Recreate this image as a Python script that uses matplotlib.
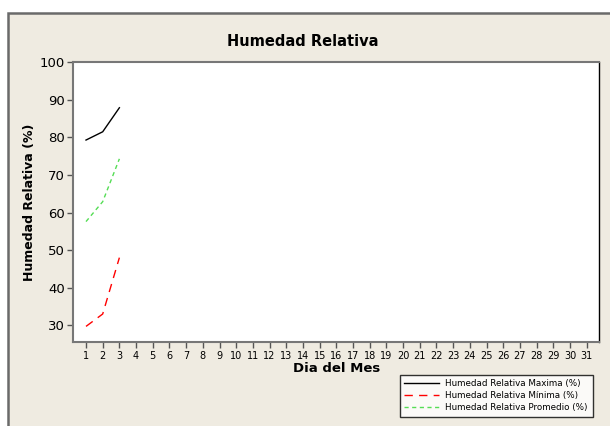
import matplotlib.pyplot as plt
from matplotlib.patches import Rectangle

dias = [1, 2, 3]
hr_max = [79.3, 81.5, 87.9]
hr_min = [29.7, 33.0, 48.0]
hr_prom = [57.6, 62.9, 74.3]
ticks_x = list(range(1, 32))
ticks_y = [30, 40, 50, 60, 70, 80, 90, 100]

fig = plt.figure(figsize=(6.1, 4.26), dpi=100, facecolor='white')

# outer beige panel with grey border
fig.patches.append(Rectangle((7.5 / 610, -0.1), 1.2, 1 - 12.5 / 426 + 0.1,
                             transform=fig.transFigure, facecolor='#efebe1',
                             edgecolor='#6a6a6a', linewidth=1.8, zorder=-10))

ax = fig.add_axes([0.1202, 0.1965, 0.982 - 0.1202, 0.8538 - 0.1965])
ax.set_facecolor('white')

ax.plot(dias, hr_max, color='black', lw=1.0, label='Humedad Relativa Maxima (%)')
ax.plot(dias, hr_min, color='#ff0000', lw=1.0, dashes=(6, 4.5),
        label='Humedad Relativa Mínima (%)')
ax.plot(dias, hr_prom, color='#55dd55', lw=1.0, dashes=(3, 2.5),
        label='Humedad Relativa Promedio (%)')

ax.set_xlim(0.24, 31.74)
ax.set_ylim(25.47, 100)
ax.set_xticks(ticks_x)
ax.set_yticks(ticks_y)
ax.tick_params(axis='x', labelsize=7, length=4, width=1, color='#555555', pad=2)
ax.tick_params(axis='y', labelsize=9.5, length=4, width=1, color='#555555', pad=2)

for s in ['left', 'bottom', 'top']:
    ax.spines[s].set_color('#777777')
    ax.spines[s].set_linewidth(1.5)
ax.spines['right'].set_color('black')
ax.spines['right'].set_linewidth(1.0)

ax.set_xlabel('Dia del Mes', fontsize=9.5, fontweight='bold', labelpad=1)
ax.set_ylabel('Humedad Relativa (%)', fontsize=9, fontweight='bold', labelpad=3)

fig.text(0.497, 1 - 42 / 426, 'Humedad Relativa', ha='center', va='center',
         fontsize=10.5, fontweight='bold')

leg = ax.legend(loc='lower left', bbox_to_anchor=(395.7 / 610, 1 - 421 / 426,
                                                  (597 - 395.7) / 610, (421 - 373) / 426),
                bbox_transform=fig.transFigure, mode='expand', fontsize=6.3,
                frameon=True, fancybox=False, edgecolor='black', handlelength=4,
                handletextpad=0.6, borderpad=0.5, labelspacing=0.35)
leg.get_frame().set_linewidth(1.0)

fig.savefig('out.png', dpi=100, facecolor='white')
